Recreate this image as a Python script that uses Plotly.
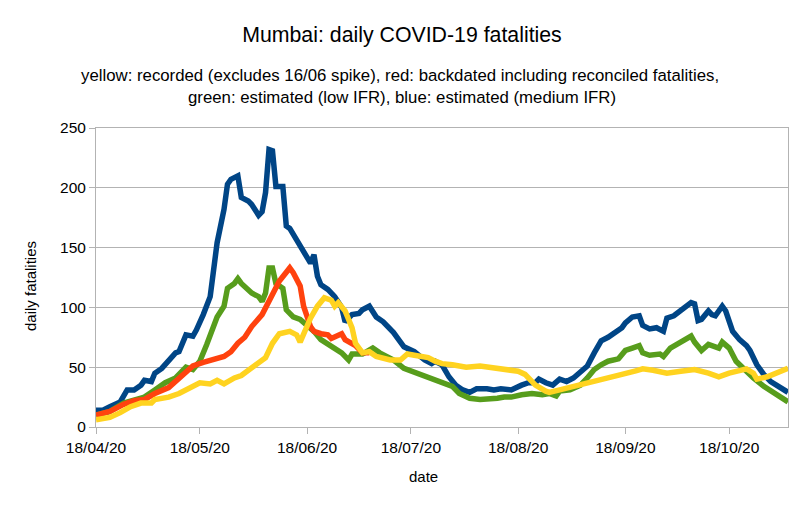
import pandas as pd
import plotly.graph_objects as go

START = "2020-04-18"

# days since 18/04/2020 and daily fatalities
blue_days = [0, 2, 4, 7, 9, 11, 13, 14, 16, 17, 19, 21, 23, 24, 26, 28, 29, 31, 33, 35, 37, 38, 39, 41,
             42, 44, 45, 47, 48, 49, 50, 51, 52, 54, 55, 56, 58, 59, 61, 62, 63, 64, 65, 67, 69, 71,
             72, 74, 76, 77, 79, 81, 83, 85, 86, 87, 89, 92, 94, 95, 97, 98, 100, 102, 104, 106, 108,
             110, 113, 115, 117, 120, 123, 125, 127, 128, 130, 132, 134, 136, 138, 140, 142, 144, 146,
             148, 150, 152, 153, 155, 157, 158, 160, 162, 164, 165, 167, 169, 170, 172, 173, 174, 175,
             177, 178, 179, 181, 182, 184, 186, 188, 189, 191, 193, 195, 197, 200]
blue_vals = [14, 14, 17, 21, 31, 31, 35, 39, 38, 45, 49, 56, 62, 63, 77, 76, 81, 94, 109, 154, 182, 203, 207, 210,
             192, 189, 186, 177, 180, 196, 232, 231, 201, 201, 168, 166, 157, 151, 143, 137, 144, 126, 119, 115, 109, 100,
             88, 94, 95, 98, 101, 92, 88, 83, 79, 75, 67, 63, 58, 56, 53, 55, 52, 42, 35, 31, 29,
             32, 32, 31, 32, 31, 35, 37, 37, 40, 37, 35, 40, 38, 41, 46, 51, 62, 72,
             75, 79, 83, 87, 92, 93, 85, 82, 83, 80, 91, 93, 97, 100, 104, 103, 89, 90,
             97, 94, 93, 101, 97, 80, 73, 68, 64, 52, 44, 38, 34, 29]

green_days = [0, 4, 8, 11, 14, 17, 20, 23, 26, 28, 30, 32, 34, 35, 37, 38, 40, 41, 42, 45, 47, 48, 49, 50,
              51, 52, 54, 55, 57, 59, 61, 63, 65, 68, 71, 73, 74, 77, 80, 82, 86, 89, 92, 96, 97, 100,
              103, 105, 108, 111, 114, 116, 118, 120, 123, 126, 129, 131, 133, 134, 137, 140, 142, 144,
              146, 148, 151, 153, 155, 157, 158, 160, 163, 164, 166, 168, 170, 172, 173, 175, 177, 178,
              180, 181, 183, 185, 187, 190, 193, 196, 200]
green_vals = [10, 13, 20, 22, 25, 31, 37, 41, 50, 48, 55, 69, 84, 92, 101, 116, 120, 124, 120, 112, 109, 105, 112, 133,
              133, 120, 116, 98, 92, 90, 85, 80, 73, 67, 62, 56, 61, 61, 66, 62, 56, 49, 46, 42, 40, 37,
              34, 28, 24, 23, 23, 24, 25, 25, 27, 28, 27, 28, 26, 30, 31, 35, 41, 48,
              52, 55, 57, 64, 66, 68, 62, 60, 61, 59, 66, 69, 72, 76, 71, 64, 69, 68,
              66, 71, 66, 55, 49, 41, 34, 28, 21]

red_days = [0, 4, 8, 11, 14, 17, 21, 25, 28, 31, 34, 37, 39, 41, 43, 45, 48, 50, 53, 56, 57, 59, 60, 62,
            63, 65, 67, 68, 71, 72, 75, 77, 79]
red_vals = [10, 13, 19, 22, 23, 28, 33, 43, 51, 54, 57, 59, 63, 70, 75, 84, 94, 106, 122, 133, 129, 118, 101, 84,
            80, 78, 77, 74, 78, 73, 68, 62, 62]

yellow_days = [0, 4, 7, 10, 13, 16, 17, 21, 24, 27, 30, 33, 35, 37, 40, 42, 44, 47, 49, 51, 53, 56, 58, 59,
               61, 62, 64, 66, 68, 69, 70, 72, 74, 75, 77, 79, 81, 83, 85, 88, 90, 92, 96, 98, 100,
               103, 107, 111, 114, 118, 122, 124, 127, 130, 131, 134, 137, 140, 144, 148, 152, 156, 158,
               161, 165, 169, 173, 177, 180, 183, 185, 188, 190, 191, 194, 197, 200]
yellow_vals = [6, 8, 12, 17, 20, 20, 23, 25, 28, 33, 37, 36, 39, 36, 41, 43, 47, 53, 58, 70, 78, 80, 77, 71,
               84, 91, 101, 108, 106, 101, 104, 97, 83, 70, 62, 63, 59, 58, 56, 56, 61, 60, 58, 55, 53,
               52, 50, 51, 50, 48, 46.6, 44, 35, 30, 29, 31, 33, 35, 38, 41, 44, 47, 48.6,
               47.5, 45, 46.6, 48, 45, 42, 45, 46, 48.6, 45, 40, 42, 45, 49]

tick_dates = ["2020-04-18", "2020-05-18", "2020-06-18", "2020-07-18", "2020-08-18", "2020-09-18", "2020-10-18"]
tick_labels = ["18/04/20", "18/05/20", "18/06/20", "18/07/20", "18/08/20", "18/09/20", "18/10/20"]
y_ticks = [0, 50, 100, 150, 200, 250]


def to_dates(days):
    return pd.Timestamp(START) + pd.to_timedelta(days, unit="D")


FONT = "Liberation Sans, Arial, sans-serif"
OFF = 8                      # page margin of the html body
PAGE_W, PAGE_H = 804, 506
W, H = PAGE_W - 2 * OFF, PAGE_H - 2 * OFF
# plot area in page pixels
PX0, PX1, PY0, PY1 = 96, 788, 128, 427
L, T = PX0 - OFF, PY0 - OFF
R = W - (PX1 - OFF)
B = H - (PY1 - OFF)
PW, PH = PX1 - PX0, PY1 - PY0


def px_x(x):
    return (x - PX0) / PW


def px_y(y):
    return (PY1 - y) / PH


fig = go.Figure()
series = [
    (blue_days, blue_vals, "#004586", "blue"),
    (green_days, green_vals, "#579D1C", "green"),
    (red_days, red_vals, "#FF420E", "red"),
    (yellow_days, yellow_vals, "#FFD320", "yellow"),
]
for d, v, c, n in series:
    fig.add_trace(go.Scatter(x=to_dates(d), y=v, mode="lines", name=n,
                             line=dict(color=c, width=5.5), hoverinfo="skip"))

axis_common = dict(showline=True, linecolor="#b3b3b3", linewidth=1, mirror=True,
                   ticks="outside", tickcolor="#b3b3b3", ticklen=6, tickwidth=1,
                   tickfont=dict(family=FONT, size=15.5, color="#000000"), zeroline=False)

fig.update_xaxes(range=["2020-04-18", "2020-11-04"], tickvals=tick_dates, ticktext=tick_labels,
                 showgrid=False, **axis_common)
fig.update_yaxes(range=[0, 250], tickvals=y_ticks, showgrid=True, gridcolor="#b3b3b3", gridwidth=1,
                 **axis_common)

fig.update_layout(
    width=W, height=H, autosize=False,
    margin=dict(l=L, r=R, t=T, b=B, pad=0),
    paper_bgcolor="white", plot_bgcolor="white",
    showlegend=False,
    title=dict(text="Mumbai: daily COVID-19 fatalities", x=(402 - OFF) / W, xanchor="center",
               xref="container", y=1 - (35 - OFF) / H, yanchor="middle", yref="container",
               font=dict(family=FONT, size=21.3, color="#000000")),
    annotations=[
        dict(text="yellow: recorded (excludes 16/06 spike), red: backdated including reconciled fatalities,",
             x=px_x(400), y=px_y(76), xref="paper", yref="paper", showarrow=False,
             xanchor="center", yanchor="middle", font=dict(family=FONT, size=16.8, color="#000000")),
        dict(text="green: estimated (low IFR), blue: estimated (medium IFR)",
             x=px_x(402), y=px_y(97), xref="paper", yref="paper", showarrow=False,
             xanchor="center", yanchor="middle", font=dict(family=FONT, size=16.8, color="#000000")),
        dict(text="daily fatalities", x=px_x(30), y=px_y(286), xref="paper", yref="paper",
             showarrow=False, textangle=-90, xanchor="center", yanchor="middle",
             font=dict(family=FONT, size=15, color="#000000")),
        dict(text="date", x=px_x(423), y=px_y(477), xref="paper", yref="paper", showarrow=False,
             xanchor="center", yanchor="middle", font=dict(family=FONT, size=15, color="#000000")),
    ],
)

fig.write_html("out.html")
